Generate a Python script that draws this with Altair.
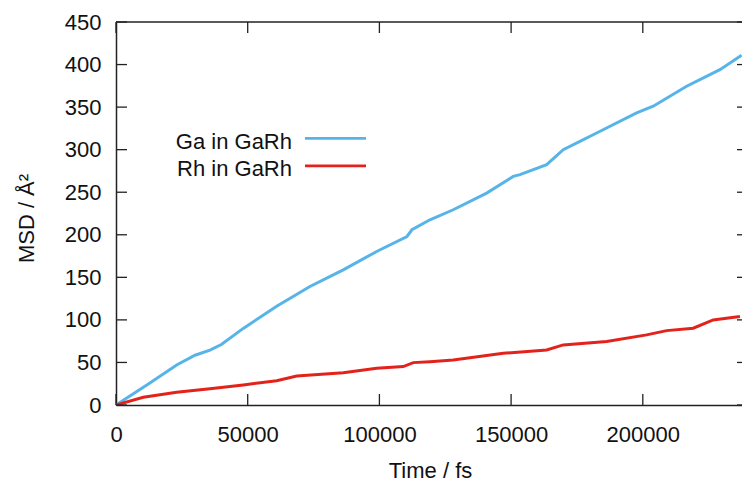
import altair as alt
import pandas as pd

FONT = "Liberation Sans"
FRAME = "#222222"
TEXT = "#111111"

series_names = ["Ga in GaRh", "Rh in GaRh"]
series_colors = ["#56b4e9", "#e3231b"]

ga_time = [0, 12000, 23040, 30000, 35680, 40000, 48320, 61000, 73640, 86280, 98960, 110460, 112360, 119190,
           128040, 140720, 150810, 153360, 163490, 169800, 176130, 182470,
           197660, 203960, 216640, 229280, 237500]
ga_msd = [0, 24.0, 47.0, 58.5, 64.5, 71.0, 90.0, 116.0, 139.2, 158.8, 180.4, 198.0, 205.9, 217.6,
          229.4, 249.0, 268.6, 270.6, 282.4, 300.0, 309.8, 319.6,
          343.2, 351.0, 374.5, 394.0, 411.0]

rh_time = [0, 10360, 23040, 35680, 48320, 61000, 68600, 86280, 98960, 109060,
           112850, 119190, 128040, 147020, 163490, 169800, 186270, 201450,
           209050, 219140, 226730, 236870]
rh_msd = [0, 9.0, 15.0, 19.0, 23.5, 28.6, 34.1, 38.0, 43.2, 45.1,
          49.8, 50.9, 52.9, 60.8, 64.7, 70.6, 74.5, 82.4,
          87.4, 90.2, 100.0, 103.9]

x_ticks = [0, 50000, 100000, 150000, 200000]
y_ticks = [0, 50, 100, 150, 200, 250, 300, 350, 400, 450]

X_DOMAIN = [0, 237660]
Y_DOMAIN = [0, 450]
W, H = 626, 383
TICK = 11

df = pd.concat([
    pd.DataFrame({"time": ga_time, "msd": ga_msd, "series": series_names[0]}),
    pd.DataFrame({"time": rh_time, "msd": rh_msd, "series": series_names[1]}),
])

xs = alt.Scale(domain=X_DOMAIN, nice=False, zero=False)
ys = alt.Scale(domain=Y_DOMAIN, nice=False)

x_axis = alt.Axis(
    values=x_ticks, format="d", ticks=False, grid=False,
    domainColor=FRAME, domainWidth=1.5,
    labelFont=FONT, labelFontSize=22, labelColor=TEXT, labelFlush=False,
    labelBaseline="alphabetic", labelPadding=36,
    title="Time / fs", titleFont=FONT, titleFontSize=22, titleFontWeight="normal",
    titleColor=TEXT, titleX=314, titleY=72, titleBaseline="alphabetic",
    titleAlign="center")
y_axis = alt.Axis(
    values=y_ticks, ticks=False, grid=False,
    domainColor=FRAME, domainWidth=1.5,
    labelFont=FONT, labelFontSize=22, labelColor=TEXT, labelPadding=15,
    title="MSD / Å²", titleFont=FONT, titleFontSize=22, titleFontWeight="normal",
    titleColor=TEXT, titleX=-83, titleY=196, titleBaseline="alphabetic",
    titleAlign="center", titleAngle=270)

lines = alt.Chart(df).mark_line(strokeWidth=3, clip=True).encode(
    x=alt.X("time:Q", scale=xs, axis=x_axis),
    y=alt.Y("msd:Q", scale=ys, axis=y_axis),
    color=alt.Color("series:N", scale=alt.Scale(domain=series_names, range=series_colors),
                    legend=None),
    detail="series:N",
)

xt = pd.DataFrame({"v": x_ticks})
yt = pd.DataFrame({"v": y_ticks})
rule_style = dict(color=FRAME, strokeWidth=1.3)

bottom_ticks = alt.Chart(xt).mark_rule(**rule_style).encode(
    x=alt.X("v:Q", scale=xs, axis=x_axis), y=alt.value(H), y2=alt.value(H - TICK))
top_ticks = alt.Chart(xt).mark_rule(**rule_style).encode(
    x=alt.X("v:Q", scale=xs, axis=x_axis), y=alt.value(0), y2=alt.value(TICK))
left_ticks = alt.Chart(yt).mark_rule(**rule_style).encode(
    y=alt.Y("v:Q", scale=ys, axis=y_axis), x=alt.value(0), x2=alt.value(TICK))
right_ticks = alt.Chart(yt).mark_rule(**rule_style).encode(
    y=alt.Y("v:Q", scale=ys, axis=y_axis), x=alt.value(W - 5), x2=alt.value(W))
top_frame = alt.Chart(pd.DataFrame({"v": [0]})).mark_rule(color=FRAME, strokeWidth=1.5).encode(
    x=alt.value(0), x2=alt.value(W), y=alt.value(0))

legend_layers = []
for i, (name, col) in enumerate(zip(series_names, series_colors)):
    legend_layers.append(
        alt.Chart(pd.DataFrame({"label": [name]})).mark_text(
            align="right", baseline="alphabetic", font=FONT, fontSize=22, color=TEXT
        ).encode(text="label:N", x=alt.value(176), y=alt.value(126.5 + i * 27.7))
    )
    legend_layers.append(
        alt.Chart(pd.DataFrame({"label": [name]})).mark_rule(color=col, strokeWidth=2.8).encode(
            x=alt.value(189), x2=alt.value(250), y=alt.value(116.3 + i * 27.6))
    )

chart = alt.layer(
    lines, top_frame, bottom_ticks, top_ticks, left_ticks, right_ticks, *legend_layers
).properties(
    width=W, height=H,
    padding={"left": 116, "top": 22, "right": 0, "bottom": 79},
    autosize=alt.AutoSizeParams(type="none"),
    background="white",
).configure_view(stroke=None)

chart.save("out.html", embed_options={"renderer": "svg", "actions": False})
